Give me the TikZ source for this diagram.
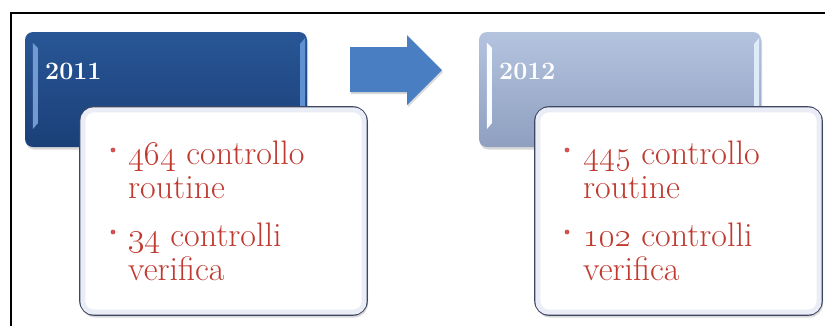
\RequirePackage{fix-cm}
\documentclass[tikz,border=0pt]{standalone}
\usetikzlibrary{shadows,calc}

\definecolor{darkTop}{RGB}{40,86,150}
\definecolor{darkBot}{RGB}{27,64,120}
\definecolor{darkHiL}{RGB}{115,155,210}
\definecolor{darkHiR}{RGB}{95,145,210}
\definecolor{lightTop}{RGB}{180,196,223}
\definecolor{lightBot}{RGB}{142,159,192}
\definecolor{lightHiL}{RGB}{250,252,255}
\definecolor{lightHiR}{RGB}{225,234,248}
\definecolor{edgeC}{RGB}{62,70,100}
\definecolor{glowC}{RGB}{234,237,246}
\definecolor{itemRed}{RGB}{192,58,48}
\definecolor{dotRed}{RGB}{210,82,82}
\definecolor{arrowC}{RGB}{74,126,195}

% bevel highlights on the left and right sides of a year box
\newcommand\bevelstrips[3]{%
  \fill[#2] ($(#1.north west)+(8,11)$) -- ($(#1.north west)+(13,16)$)
     -- ($(#1.south west)+(13,-24)$) -- ($(#1.south west)+(8,-18)$) -- cycle;
  \fill[#3] ($(#1.north east)+(-2,6)$) -- ($(#1.north east)+(-7,12)$)
     -- ($(#1.south east)+(-7,-12)$) -- ($(#1.south east)+(-2,-6)$) -- cycle;
}

\begin{document}
\begin{tikzpicture}[x=1pt,y=-1pt,
  yearbox/.style={rounded corners=8pt, minimum width=282pt, minimum height=115pt,
    inner sep=0pt, draw=none,
    drop shadow={shadow xshift=1pt, shadow yshift=-2.5pt, opacity=0.3}},
  darkface/.style={top color=darkTop, bottom color=darkBot},
  lightface/.style={top color=lightTop, bottom color=lightBot},
  detailbox/.style={rounded corners=14pt, draw=edgeC, line width=1.6pt, fill=white,
    minimum width=287pt, minimum height=208pt, inner sep=0pt,
    drop shadow={shadow xshift=1pt, shadow yshift=-2.5pt, opacity=0.3}},
  glowline/.style={draw=glowC, line width=5pt, rounded corners=11pt},
  yearlabel/.style={anchor=base west, text=white, inner sep=0pt,
    font=\bfseries\fontsize{25}{25}\selectfont},
  itemtext/.style={anchor=base west, text=itemRed, inner sep=0pt,
    font=\fontsize{34}{34}\selectfont},
  itemdot/.style={circle, fill=dotRed, inner sep=0pt, minimum size=4.8pt},
  arrowshape/.style={fill=arrowC,
    drop shadow={shadow xshift=1pt, shadow yshift=-2pt, opacity=0.3}},
  frameline/.style={line width=2.6pt, line join=miter}
]
\useasboundingbox (0,0) rectangle (825,325);
\clip (0,0) rectangle (825,325);

% outer frame (left and top edges)
\draw[frameline] (11,345) -- (11,13) -- (845,13);

% year boxes
\node[yearbox, darkface] (y11) at (166,89.5) {};
\node[yearbox, lightface] (y12) at (620,89.5) {};
\bevelstrips{y11}{darkHiL}{darkHiR}
\bevelstrips{y12}{lightHiL}{lightHiR}

% arrow between the years
\path[arrowshape] (350,47) -- (407,47) -- (407,35) -- (442,70)
   -- (407,105) -- (407,92) -- (350,92) -- cycle;

% detail boxes
\node[detailbox] (d11) at (223.5,211) {};
\node[detailbox] (d12) at (678.5,211) {};
\draw[glowline] ($(d11.north west)+(3.6,3.6)$) rectangle ($(d11.south east)+(-3.6,-3.6)$);
\draw[glowline] ($(d12.north west)+(3.6,3.6)$) rectangle ($(d12.south east)+(-3.6,-3.6)$);

% year labels
\node[yearlabel] (l11) at (45,79) {2011};
\node[yearlabel] (l12) at (499,79) {2012};

% items, 2011
\node[itemdot] (b11a) at (113,150) {};
\node[itemdot] (b11b) at (113,232) {};
\node[itemtext] (t11a) at (128,164) {\oldstylenums{464} controllo};
\node[itemtext] (t11b) at (128,198) {routine};
\node[itemtext] (t11c) at (128,246) {\oldstylenums{34} controlli};
\node[itemtext] (t11d) at (128,280) {verifica};

% items, 2012
\node[itemdot] (b12a) at (567,150) {};
\node[itemdot] (b12b) at (567,232) {};
\node[itemtext] (t12a) at (583,164) {\oldstylenums{445} controllo};
\node[itemtext] (t12b) at (583,198) {routine};
\node[itemtext] (t12c) at (583,246) {\oldstylenums{102} controlli};
\node[itemtext] (t12d) at (583,280) {verifica};
\end{tikzpicture}
\end{document}
